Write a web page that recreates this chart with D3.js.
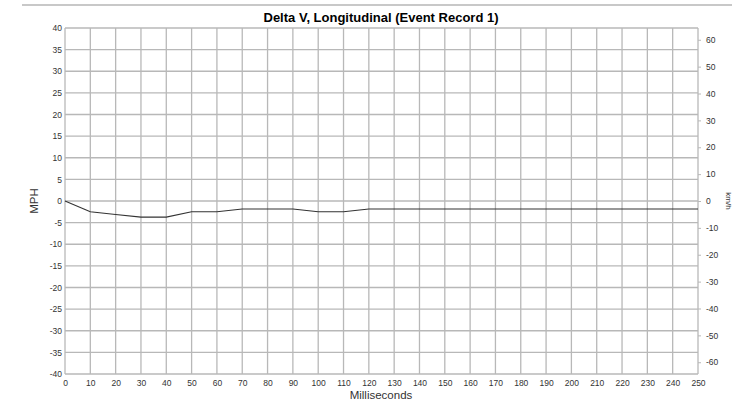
<!DOCTYPE html>
<html>
<head>
<meta charset="utf-8">
<script src="https://cdn.jsdelivr.net/npm/d3@7"></script>
<style>
body { margin: 0; background: #fff; }
text { font-family: "Liberation Sans", Arial, sans-serif; }
</style>
</head>
<body>
<div id="chart"></div>
<script>
(function(){

// data (ms vs delta V in mph)
const times = [0,10,20,30,40,50,60,70,80,90,100,110,120,130,140,150,160,170,180,190,200,210,220,230,240,250];
const deltaV = [0,-2.49,-3.11,-3.73,-3.73,-2.49,-2.49,-1.86,-1.86,-1.86,-2.49,-2.49,-1.86,-1.86,-1.86,-1.86,-1.86,-1.86,-1.86,-1.86,-1.86,-1.86,-1.86,-1.86,-1.86,-1.86];
const mphTicks = d3.range(-40, 41, 5);
const kmhTicks = d3.range(-60, 61, 10);
const msTicks = d3.range(0, 251, 10);

const width = 733;
const height = 403;
const margin = {top:28, right:35, bottom:29, left:65};

const svg = d3.select("#chart")
.append("svg")
.attr("width",width)
.attr("height",height);

const x = d3.scaleLinear().domain([0,250]).range([margin.left, width-margin.right]);
const y = d3.scaleLinear().domain([-40,40]).range([height-margin.bottom, margin.top]);
const yk = d3.scaleLinear().domain([-40*1.609344, 40*1.609344]).range([height-margin.bottom, margin.top]);

// top rule
svg.append("line")
.attr("x1",22).attr("x2",732)
.attr("y1",5).attr("y2",5)
.attr("stroke","#c8c8c8")
.attr("stroke-width",2);

// grid
svg.append("g")
.selectAll("line")
.data(msTicks)
.enter()
.append("line")
.attr("x1",d=>x(d)).attr("x2",d=>x(d))
.attr("y1",y(40)).attr("y2",y(-40))
.attr("stroke","#b8b8b8")
.attr("stroke-width",1.3);

svg.append("g")
.selectAll("line")
.data(mphTicks)
.enter()
.append("line")
.attr("x1",x(0)).attr("x2",x(250))
.attr("y1",d=>y(d)).attr("y2",d=>y(d))
.attr("stroke","#b8b8b8")
.attr("stroke-width",1.3);

// axes
const plain = d => String(d);
const tickStyle = g => {
  g.select(".domain").remove();
  g.selectAll("line").attr("stroke","#b8b8b8");
  g.selectAll("text").attr("fill","#333").style("font-size","8.5px");
};

svg.append("g")
.attr("transform",`translate(0,${y(-40)})`)
.call(d3.axisBottom(x).tickValues(msTicks).tickFormat(plain).tickSize(0).tickPadding(6))
.call(tickStyle);

svg.append("g")
.attr("transform",`translate(${x(0)},0)`)
.call(d3.axisLeft(y).tickValues(mphTicks).tickFormat(plain).tickSize(0).tickPadding(3))
.call(tickStyle);

svg.append("g")
.attr("transform",`translate(${x(250)},0)`)
.call(d3.axisRight(yk).tickValues(kmhTicks).tickFormat(plain).tickSize(3).tickPadding(5))
.call(tickStyle);

// data line
const line = d3.line()
.x((d,i)=>x(times[i]))
.y(d=>y(d));

svg.append("path")
.datum(deltaV)
.attr("d",line)
.attr("fill","none")
.attr("stroke","#333")
.attr("stroke-width",1.1);

// titles
svg.append("text")
.attr("x",381)
.attr("y",22)
.attr("text-anchor","middle")
.attr("font-weight","bold")
.style("font-size","13px")
.text("Delta V, Longitudinal (Event Record 1)");

svg.append("text")
.attr("x",381)
.attr("y",399)
.attr("text-anchor","middle")
.attr("fill","#333")
.style("font-size","11.5px")
.text("Milliseconds");

svg.append("text")
.attr("transform",`translate(38,${y(0)}) rotate(-90)`)
.attr("text-anchor","middle")
.attr("fill","#333")
.style("font-size","11.5px")
.text("MPH");

svg.append("text")
.attr("transform",`translate(726,${y(0)}) rotate(90)`)
.attr("text-anchor","middle")
.attr("fill","#333")
.style("font-size","8px")
.text("km/h");

})();
</script>
</body>
</html>
